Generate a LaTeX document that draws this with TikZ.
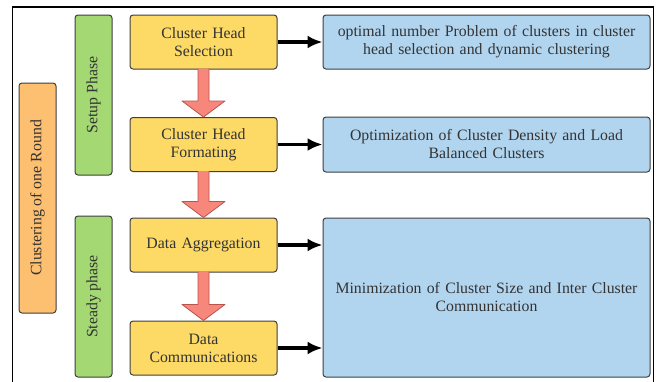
\documentclass[tikz,border=0pt]{standalone}
\usepackage{fontspec}
\setmainfont{Liberation Serif}
\usetikzlibrary{calc,arrows.meta}
\definecolor{yel}{HTML}{FDD966}
\definecolor{blu}{HTML}{B2D5EF}
\definecolor{grn}{HTML}{A4D873}
\definecolor{org}{HTML}{FDBF70}
\definecolor{redf}{HTML}{F8877B}
\definecolor{redd}{HTML}{B85450}
\definecolor{edge}{HTML}{3F3F3F}
\definecolor{txt}{HTML}{333333}
\tikzset{
  base/.style={draw=edge, line width=1pt, rounded corners=3pt, inner sep=0pt, align=center, text=txt, font=\fontsize{15.8}{18}\selectfont},
  ybox/.style={base, fill=yel, minimum width=147pt, minimum height=54pt, text width=145pt},
  bbox/.style={base, fill=blu, minimum width=327pt, text width=325pt},
  gbox/.style={base, fill=grn, minimum width=37pt, rotate=90},
  obox/.style={base, fill=org, minimum width=37pt, rotate=90},
  blk/.style={line width=3.5pt, -{Latex[length=15pt,width=13pt]}},
  redarrow/.style={draw=redd, fill=redf, line width=0.8pt, line join=round}
}
\begin{document}
\begin{tikzpicture}[x=1pt,y=-1pt]
\useasboundingbox (0,0) rectangle (662,381);
\draw[line width=1.5pt] (12.5,385) -- (12.5,7) -- (653.5,7) -- (653.5,385);
% yellow nodes
\node[ybox] (y1) at (203.5,42) {Cluster Head\\Selection};
\node[ybox] (y2) at (203.5,144.5) {Cluster Head\\Formating};
\node[ybox] (y3) at (203.5,245) {Data Aggregation};
\node[ybox] (y4) at (203.5,348) {Data\\Communications};
% blue nodes
\node[bbox, minimum height=54pt] (b1) at (486.5,42) {optimal number Problem of clusters in cluster\\head selection and dynamic clustering};
\node[bbox, minimum height=55pt] (b2) at (486.5,144.5) {Optimization of Cluster Density and Load\\Balanced Clusters};
\node[bbox, minimum height=159pt] (b3) at (486.5,297.5) {Minimization of Cluster Size and Inter Cluster\\Communication};
% green / orange
\node[gbox, minimum width=160pt, minimum height=37pt] (g1) at (93.5,95) {Setup Phase};
\node[gbox, minimum width=161pt, minimum height=37pt] (g2) at (93.5,296.5) {Steady phase};
\node[obox, minimum width=230pt, minimum height=37pt] (o1) at (37.5,198) {Clustering of one Round};
% black arrows
\draw[blk] (y1.east) -- (b1.west);
\draw[blk] (y2.east) -- (b2.west);
\draw[blk] (y3.east) -- (y3.east -| b3.west);
\draw[blk] (y4.east) -- (y4.east -| b3.west);
% red arrows
\foreach \a/\b in {y1/y2, y2/y3, y3/y4}{
  \draw[redarrow]
    ($(\a.south)+(-5.5,-1)$) -- ($(\b.north)+(-5.5,-16)$) -- ($(\b.north)+(-21.5,-16)$)
    -- ($(\b.north)+(0,0)$) -- ($(\b.north)+(21.5,-16)$) -- ($(\b.north)+(5.5,-16)$)
    -- ($(\a.south)+(5.5,-1)$);
}
\end{tikzpicture}
\end{document}
